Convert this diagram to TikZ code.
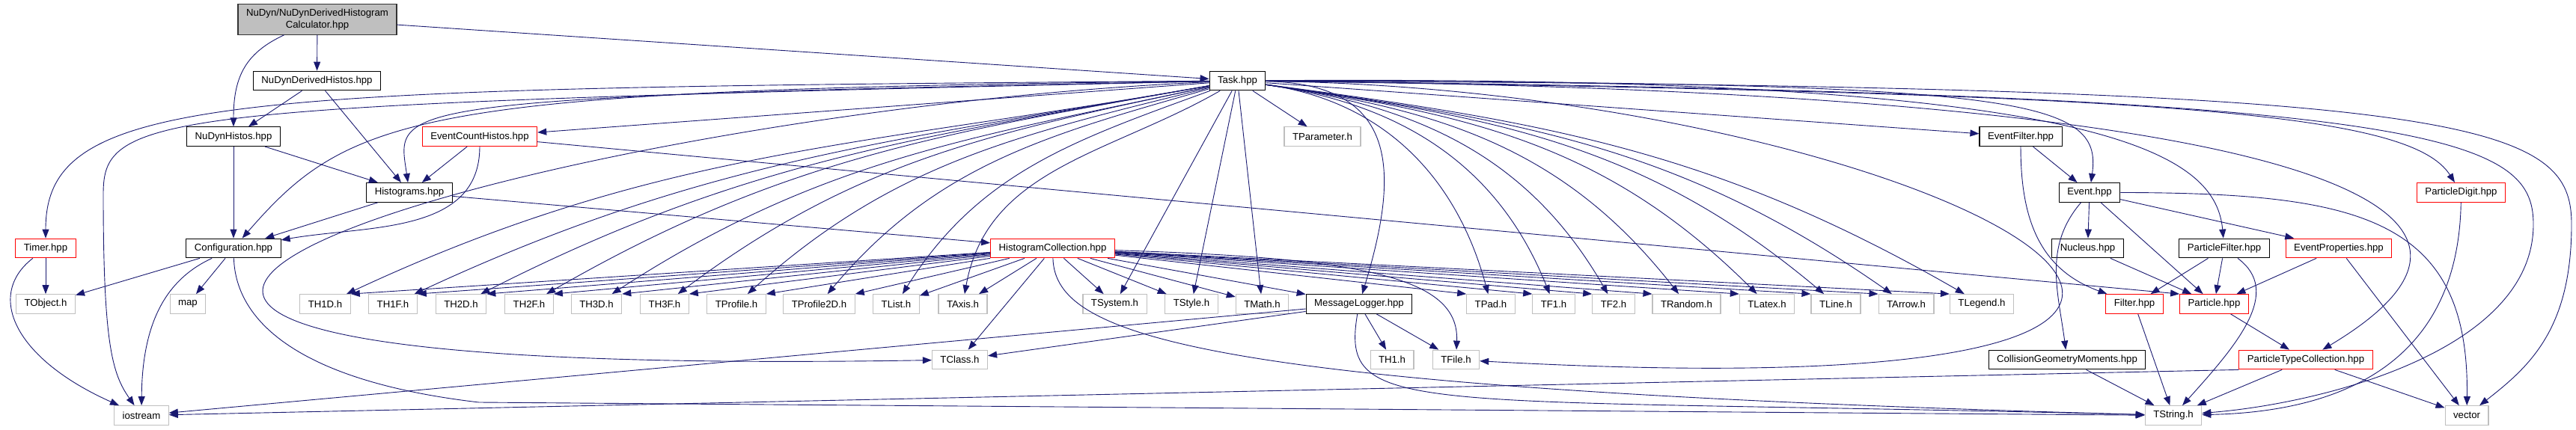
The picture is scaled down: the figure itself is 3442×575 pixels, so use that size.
\documentclass[tikz,border=0pt]{standalone}
\usepackage{fontspec}
\setmainfont{Liberation Sans}
\usetikzlibrary{arrows.meta}
\definecolor{edgeblue}{HTML}{191970}
\definecolor{boxgray}{HTML}{BFBFBF}
\begin{document}
\begin{tikzpicture}[x=1pt,y=-1pt,
    nbox/.style={rectangle,draw,line width=1.1pt,minimum height=25.7pt,
      inner xsep=11pt,inner ysep=0pt,font=\fontsize{13.2}{16}\selectfont},
    hdr/.style={nbox,fill=boxgray,draw=black!80,align=center,minimum height=40.3pt},
    doc/.style={nbox,draw=black},
    trunc/.style={nbox,draw=red},
    ext/.style={nbox,draw=boxgray},
    dep/.style={draw=edgeblue,line width=0.9pt,-{Triangle[length=12pt,width=9pt]}}]
  \useasboundingbox (0,0) rectangle (3442,575);
  % include graph, rows from top to bottom
  \node[hdr] (root) at (424,26) {NuDyn/NuDynDerivedHistogram\\Calculator.hpp};
  \node[doc] (derived) at (423.5,108) {NuDynDerivedHistos.hpp};
  \node[doc] (task) at (1653.5,108) {Task.hpp};
  \node[doc] (nudyn) at (312,182.7) {NuDynHistos.hpp};
  \node[trunc] (evcount) at (641,182.7) {EventCountHistos.hpp};
  \node[ext] (tparam) at (1767,182.7) {TParameter.h};
  \node[doc] (evfilter) at (2700,182.7) {EventFilter.hpp};
  \node[doc] (histos) at (547,257.4) {Histograms.hpp};
  \node[doc] (event) at (2792,257.4) {Event.hpp};
  \node[trunc] (pdigit) at (3288.5,257.4) {ParticleDigit.hpp};
  \node[trunc] (timer) at (61,332) {Timer.hpp};
  \node[doc] (config) at (312,332) {Configuration.hpp};
  \node[trunc] (hcoll) at (1406.5,332) {HistogramCollection.hpp};
  \node[doc] (nucleus) at (2789.5,332) {Nucleus.hpp};
  \node[doc] (pfilter) at (2972,332) {ParticleFilter.hpp};
  \node[trunc] (evprops) at (3125,332) {EventProperties.hpp};
  \foreach \n/\x/\t in {tobject/61/TObject.h, map/251/map, th1d/434.5/TH1D.h,
      th1f/525/TH1F.h, th2d/616/TH2D.h, th2f/707/TH2F.h, th3d/797/TH3D.h,
      th3f/888/TH3F.h, tprof/984/TProfile.h, tprof2d/1094.5/TProfile2D.h,
      tlist/1197.5/TList.h, taxis/1286.5/TAxis.h, tsystem/1489.5/TSystem.h,
      tstyle/1592/TStyle.h, tmath/1686.5/TMath.h, tpad/1992/TPad.h,
      tf1/2076/TF1.h, tf2/2156/TF2.h, trandom/2253.5/TRandom.h,
      tlatex/2361/TLatex.h, tline/2453/TLine.h, tarrow/2547/TArrow.h,
      tlegend/2648/TLegend.h}
    \node[ext] (\n) at (\x,406.5) {\t};
  \node[doc] (msglog) at (1816,406.5) {MessageLogger.hpp};
  \node[trunc] (filter) at (2852,406.5) {Filter.hpp};
  \node[trunc] (particle) at (2958.5,406.5) {Particle.hpp};
  \node[ext] (tclass) at (1282.5,481) {TClass.h};
  \node[ext] (th1) at (1860,481) {TH1.h};
  \node[ext] (tfile) at (1945.5,481) {TFile.h};
  \node[doc] (cgm) at (2762,481) {CollisionGeometryMoments.hpp};
  \node[trunc] (ptc) at (3081,481) {ParticleTypeCollection.hpp};
  \node[ext] (iostream) at (189,555.5) {iostream};
  \node[ext] (tstring) at (2904,555.5) {TString.h};
  \node[ext] (vector) at (3296,555.5) {vector};

  % left part
  \draw[dep] (root) -- (derived);
  \draw[dep] (root) .. controls (330,70) and (312,100) .. (nudyn);
  \draw[dep] (root) -- (task);
  \draw[dep] (derived) -- (nudyn);
  \draw[dep] (derived) -- (histos);
  \draw[dep] (nudyn) -- (histos);
  \draw[dep] (nudyn) -- (config);
  \draw[dep] (evcount) -- (histos);
  \draw[dep] (evcount) .. controls (641,314) and (490,301) .. (config);
  \draw[dep] (evcount) -- (particle.north west);
  \draw[dep] (histos) -- (config);
  \draw[dep] (histos) -- (hcoll);
  \draw[dep] (config) -- (tobject);
  \draw[dep] (config) -- (map);
  \draw[dep] (config) .. controls (230,370) and (190,420) .. (iostream);
  \draw[dep] (config) .. controls (315,430) and (400,510) .. (640,538) -- (tstring);
  \draw[dep] (timer) -- (tobject);
  \draw[dep] (timer) .. controls (-20,395) and (20,480) .. (iostream);

  % Task.hpp
  \draw[dep] (task) -- (evcount);
  \draw[dep] (task) -- (tparam);
  \draw[dep] (task) .. controls (300,118) and (61,125) .. (timer);
  \draw[dep] (task) .. controls (200,140) and (138,150) .. (138,260)
    .. controls (138,460) and (150,500) .. (iostream);
  \draw[dep] (task) .. controls (560,120) and (470,150) .. (config);
  \draw[dep] (task) .. controls (500,130) and (530,140) .. (histos);
  \draw[dep] (task) .. controls (700,150) and (-500,510) .. (tclass);
  \foreach \t/\ax/\ay/\bx/\by in {th1d/1158/196/883/197, th1f/1192/189/943/212,
      th2d/1225/184/995/214, th2f/1258/178/1044/212, th3d/1292/185/1094/214,
      th3f/1324/178/1144/214, tprof/1359/181/1195/217, tprof2d/1398/181/1251/220,
      tlist/1437/187/1308/230, taxis/1483/206/1319/225}
    \draw[dep] (task) .. controls (\ax,\ay) and (\bx,\by) .. (\t);
  \foreach \t in {tsystem,tstyle,tmath}
    \draw[dep] (task) -- (\t);
  \draw[dep] (task) .. controls (1870,112) and (1870,230) .. (msglog);
  \foreach \t/\ax/\ay/\bx/\by in {tpad/1850/135/1947/239, tf1/1874/139/2002/222,
      tf2/1899/142/2044/212, trandom/1931/147/2094/202, tlatex/1968/152/2150/196,
      tline/2000/157/2199/193, tarrow/2033/161/2246/196, tlegend/2069/163/2295/203}
    \draw[dep] (task) .. controls (\ax,\ay) and (\bx,\by) .. (\t);
  \draw[dep] (task) .. controls (2600,120) and (3400,560) .. (tfile);
  \draw[dep] (task) -- (evfilter);
  \draw[dep] (task) .. controls (2700,110) and (2810,130) .. (event);
  \draw[dep] (task) .. controls (2800,100) and (2960,200) .. (pfilter);
  \draw[dep] (task) .. controls (3000,120) and (3450,260) .. (ptc);
  \draw[dep] (task) .. controls (2900,125) and (3220,150) .. (pdigit);
  \draw[dep] (task) .. controls (3250,125) and (3385,180) .. (3385,300)
    .. controls (3385,470) and (3100,540) .. (tstring);
  \draw[dep] (task) .. controls (3300,115) and (3436,160) .. (3436,300)
    .. controls (3436,440) and (3380,490) .. (vector);

  % HistogramCollection.hpp
  \foreach \t in {th1d,th1f,th2d,th2f,th3d,th3f,tprof,tprof2d}
    \draw[dep] (hcoll) -- (\t.north east);
  \foreach \t in {tlist,taxis,tclass,tsystem,tstyle,tmath,msglog}
    \draw[dep] (hcoll) -- (\t);
  \foreach \t in {tpad,tf1,tf2,trandom,tlatex,tline,tarrow,tlegend}
    \draw[dep] (hcoll) -- (\t.north west);
  \draw[dep] (hcoll) .. controls (1820,345) and (1950,370) .. (tfile);
  \draw[dep] (hcoll) .. controls (1410,450) and (1600,520) .. (tstring);

  % MessageLogger.hpp
  \draw[dep] (msglog) -- (tclass);
  \draw[dep] (msglog) -- (th1);
  \draw[dep] (msglog) -- (tfile);
  \draw[dep] (msglog) -- (iostream);
  \draw[dep] (msglog) .. controls (1790,560) and (1880,530) .. (tstring);

  % event side
  \draw[dep] (evfilter) -- (event);
  \draw[dep] (evfilter) .. controls (2700,293) and (2725,360) .. (filter);
  \draw[dep] (event) -- (nucleus);
  \draw[dep] (event) -- (particle);
  \draw[dep] (event) -- (evprops);
  \draw[dep] (event) .. controls (2730,330) and (2750,390) .. (cgm);
  \draw[dep] (event) .. controls (3150,258) and (3300,290) .. (vector);
  \draw[dep] (nucleus) -- (particle);
  \draw[dep] (pfilter) -- (filter);
  \draw[dep] (pfilter) -- (particle);
  \draw[dep] (pfilter) .. controls (3050,390) and (2990,460) .. (tstring);
  \draw[dep] (evprops) -- (particle);
  \draw[dep] (evprops) -- (vector);
  \draw[dep] (particle) -- (ptc);
  \draw[dep] (ptc) -- (tstring);
  \draw[dep] (ptc) -- (vector);
  \draw[dep] (ptc.south west) -- (iostream);
  \draw[dep] (pdigit) .. controls (3285,470) and (3150,550) .. (tstring);
  \draw[dep] (filter) -- (tstring);
  \draw[dep] (cgm) -- (tstring);
\end{tikzpicture}
\end{document}
